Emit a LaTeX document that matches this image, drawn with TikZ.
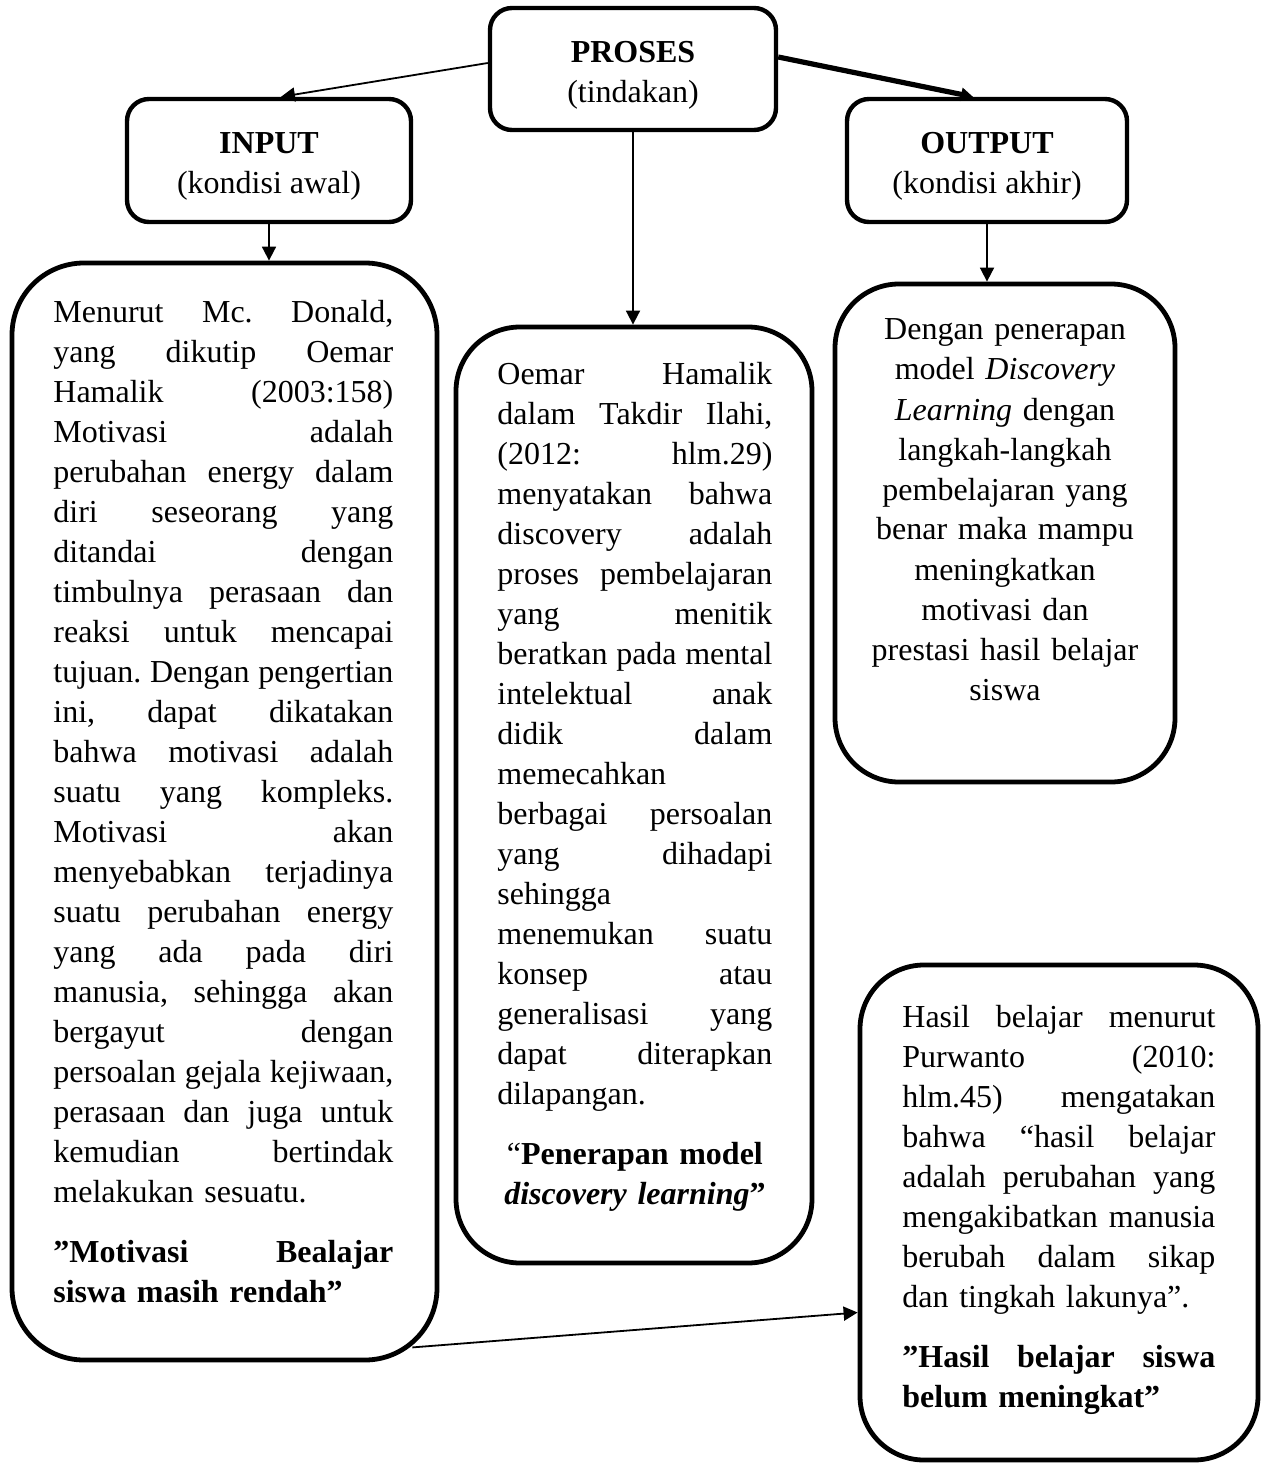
\documentclass[tikz,border=0pt]{standalone}
\usepackage{fontspec}
\setmainfont{Liberation Serif}
\usetikzlibrary{arrows.meta}
\newcommand\jl[1]{\makebox[\linewidth][s]{\spaceskip=0pt\xspaceskip=0pt #1}\par}
\begin{document}
\begin{tikzpicture}[x=0.5pt,y=-0.5pt,
  every node/.style={font=\fontsize{16pt}{20pt}\selectfont},
  smallbox/.style={draw, line width=2.2pt, rounded corners=11pt, inner sep=0pt, align=center},
  bigbox/.style={draw, line width=2.4pt, rounded corners=32pt, inner sep=0pt},
  bodytext/.style={anchor=base west, inner sep=0pt, align=left},
  conn/.style={line width=0.9pt, -{Triangle[length=7pt,width=7pt]}},
  thickconn/.style={line width=2.6pt, -{Triangle[length=6pt,width=6.5pt]}}]
\useasboundingbox (0,0) rectangle (1267,1465);
\frenchspacing
% top boxes
\node[smallbox, minimum width=143pt, minimum height=61pt] (proses) at (633,69) {\rule{0pt}{16.6pt}\textbf{PROSES}\\(tindakan)};
\node[smallbox, minimum width=142pt, minimum height=61.5pt] (input) at (269,160.5) {\rule{0pt}{16pt}\textbf{INPUT}\\(kondisi awal)};
\node[smallbox, minimum width=140pt, minimum height=61.5pt] (output) at (987,160.5) {\rule{0pt}{16pt}\textbf{OUTPUT}\\(kondisi akhir)};
% big boxes
\node[bigbox, rounded corners=36pt, minimum width=212.5pt, minimum height=548.5pt] (leftbox) at (224.5,811.5) {};
\node[bigbox, minimum width=178pt, minimum height=468pt] (midbox) at (634,795) {};
\node[bigbox, minimum width=170pt, minimum height=249pt] (rightbox) at (1005,533) {};
\node[bigbox, minimum width=199pt, minimum height=247.5pt] (hasil) at (1059,1212.5) {};
% texts
\node[bodytext, text width=170pt] (lefttext) at (53,322) {%
\jl{Menurut Mc. Donald,}
\jl{yang dikutip Oemar}
\jl{Hamalik (2003:158)}
\jl{Motivasi adalah}
\jl{perubahan energy dalam}
\jl{diri seseorang yang}
\jl{ditandai dengan}
\jl{timbulnya perasaan dan}
\jl{reaksi untuk mencapai}
\jl{tujuan. Dengan pengertian}
\jl{ini, dapat dikatakan}
\jl{bahwa motivasi adalah}
\jl{suatu yang kompleks.}
\jl{Motivasi akan}
\jl{menyebabkan terjadinya}
\jl{suatu perubahan energy}
\jl{yang ada pada diri}
\jl{manusia, sehingga akan}
\jl{bergayut dengan}
\jl{persoalan gejala kejiwaan,}
\jl{perasaan dan juga untuk}
\jl{kemudian bertindak}
melakukan sesuatu.\par
\vspace{10pt}
{\bfseries\jl{”Motivasi Bealajar}siswa masih rendah”\par}};
\node[bodytext, text width=137.5pt] (midtext) at (497,384) {%
\jl{Oemar Hamalik}
\jl{dalam Takdir Ilahi,}
\jl{(2012: hlm.29)}
\jl{menyatakan bahwa}
\jl{discovery adalah}
\jl{proses pembelajaran}
\jl{yang menitik}
\jl{beratkan pada mental}
\jl{intelektual anak}
\jl{didik dalam}
memecahkan\par
\jl{berbagai persoalan}
\jl{yang dihadapi}
sehingga\par
\jl{menemukan suatu}
\jl{konsep atau}
\jl{generalisasi yang}
\jl{dapat diterapkan}
dilapangan.\par
\vspace{10pt}
{\centering “\textbf{Penerapan model}\\\textbf{\textit{discovery learning}”}\par}};
\node[anchor=base, inner sep=0pt, text width=160pt, align=center] (righttext) at (1005,340) {%
Dengan penerapan\\
model \textit{Discovery}\\
\textit{Learning} dengan\\
langkah-langkah\\
pembelajaran yang\\
benar maka mampu\\
meningkatkan\\
motivasi dan\\
prestasi hasil belajar\\
siswa};
\node[bodytext, text width=156.5pt] (hasiltext) at (902,1027) {%
\jl{Hasil belajar menurut}
\jl{Purwanto (2010:}
\jl{hlm.45) mengatakan}
\jl{bahwa “hasil belajar}
\jl{adalah perubahan yang}
\jl{mengakibatkan manusia}
\jl{berubah dalam sikap}
dan tingkah lakunya”.\par
\vspace{10pt}
{\bfseries\jl{”Hasil belajar siswa}belum meningkat”\par}};
% connectors
\draw[conn] ([yshift=3pt]proses.west) -- ([xshift=6pt]input.north);
\draw[thickconn] ([yshift=6pt]proses.east) -- ([xshift=-7pt]output.north);
\draw[conn] (proses.south) -- (proses.south |- midbox.north);
\draw[conn] (input.south) -- (input.south |- leftbox.north);
\draw[conn] (output.south) -- (output.south |- rightbox.north);
\draw[conn] ([xshift=-13.5pt,yshift=7.5pt]leftbox.south east) -- ([yshift=-50pt]hasil.west);
\end{tikzpicture}
\end{document}
